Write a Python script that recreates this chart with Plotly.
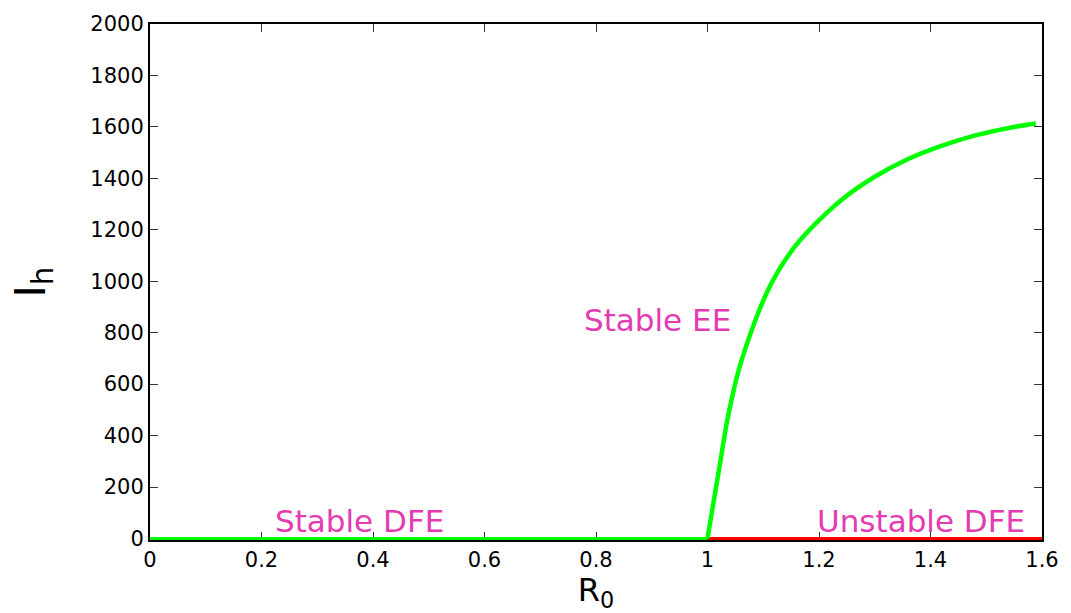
import plotly.graph_objects as go

# Disease-free equilibrium branch (I_h = 0)
r0_dfe_stable = [0.0, 1.0]
ih_dfe_stable = [0, 0]
r0_dfe_unstable = [1.0, 1.6]
ih_dfe_unstable = [0, 0]

# Endemic equilibrium branch, emerging at R0 = 1
r0_ee = [1.0, 1.0216, 1.0365, 1.0571, 1.0869, 1.108, 1.1284, 1.158, 1.1907,
         1.2413, 1.3007, 1.3600, 1.4195, 1.4788, 1.5382, 1.5888]
ih_ee = [0, 280, 471, 663, 854, 963, 1045, 1138, 1217,
         1318, 1407, 1475, 1526, 1566, 1595, 1613]

x_ticks = [0, 0.2, 0.4, 0.6, 0.8, 1, 1.2, 1.4, 1.6]
x_tick_text = ["0", "0.2", "0.4", "0.6", "0.8", "1", "1.2", "1.4", "1.6"]
y_ticks = list(range(0, 2001, 200))

GREEN = "#00FF00"
RED = "#FF0000"
LABEL = "#E43BB2"
FONT = "DejaVu Sans"

fig = go.Figure()
fig.add_trace(go.Scatter(x=r0_dfe_unstable, y=ih_dfe_unstable, mode="lines",
                         line=dict(color=RED, width=3), hoverinfo="skip"))
fig.add_trace(go.Scatter(x=r0_dfe_stable, y=ih_dfe_stable, mode="lines",
                         line=dict(color=GREEN, width=3), hoverinfo="skip"))
fig.add_trace(go.Scatter(x=r0_ee, y=ih_ee, mode="lines",
                         line=dict(color=GREEN, width=4.5, shape="spline",
                                   smoothing=1.0),
                         hoverinfo="skip"))

labels = [("Stable DFE", 0.375, 0, "bottom"),
          ("Unstable DFE", 1.383, 0, "bottom"),
          ("Stable EE", 0.911, 849, "middle")]
for text, x, y, ya in labels:
    fig.add_annotation(x=x, y=y, text=text, showarrow=False, xanchor="center",
                       yanchor=ya, yshift=-3 if ya == "bottom" else 0,
                       font=dict(family=FONT, size=31, color=LABEL))

axis_common = dict(showgrid=False, zeroline=False, showline=True, linecolor="black",
                   linewidth=2, mirror="allticks", ticks="inside", ticklen=8,
                   tickwidth=1, tickcolor="#333333",
                   tickfont=dict(family=FONT, size=21, color="black"),
                   layer="below traces")

fig.update_xaxes(range=[0, 1.6], tickvals=x_ticks, ticktext=x_tick_text,
                 title=dict(text="R<sub>0</sub>", standoff=6,
                            font=dict(family=FONT, size=32, color="black")),
                 **axis_common)
fig.update_yaxes(range=[-6, 2000], tickvals=y_ticks,
                 title=dict(text="I<sub>h</sub>", standoff=32,
                            font=dict(family=FONT, size=42, color="black")),
                 **axis_common)

fig.update_layout(width=1071, height=613, showlegend=False,
                  margin=dict(l=150, r=23, t=17, b=73),
                  plot_bgcolor="white", paper_bgcolor="white")

fig.write_html("out.html")
